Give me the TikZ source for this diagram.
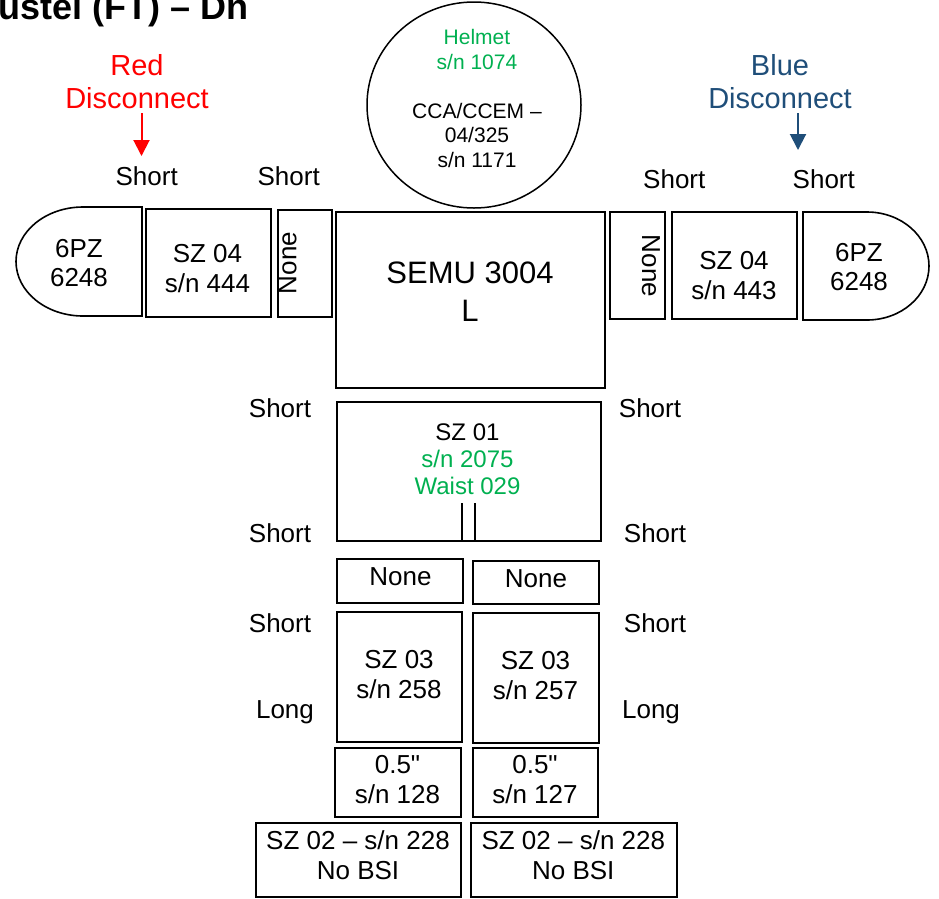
\documentclass[tikz,border=0pt]{standalone}
\usepackage{fontspec}
\setmainfont{Liberation Sans}[Ligatures=TeXOff]
\usetikzlibrary{shapes.geometric,arrows.meta}
\definecolor{grn}{HTML}{00B050}
\definecolor{dblue}{HTML}{1F4E79}
\definecolor{redc}{HTML}{FF0000}
\begin{document}
\begin{tikzpicture}[x=1pt,y=-1pt,
  partbox/.style={draw,line width=1.6pt,inner sep=0pt,outer sep=0pt,rectangle},
  txt/.style={inner sep=0pt,outer sep=0pt,align=center,font=\fontsize{26}{30}\selectfont},
  lbl/.style={inner sep=0pt,outer sep=0pt,anchor=base,font=\fontsize{26}{30}\selectfont},
  disc/.style={line width=2pt,-{Triangle[width=16pt,length=16pt]}}]
\useasboundingbox (0,0) rectangle (939,898);

% title
\node[anchor=base west,inner sep=0pt,font=\fontsize{36}{40}\selectfont\bfseries] (title) at (-2,19) {ustel (FT) – Dn};

% helmet
\node[draw,ellipse,line width=1.5pt,inner sep=0pt,minimum width=214,minimum height=206] (helmet) at (474,105) {};
\node[txt,font=\fontsize{21}{24.5}\selectfont] (helmetT) at (477,98.5) {\textcolor{grn}{Helmet}\\\textcolor{grn}{s/n 1074}\\[24.5pt]CCA/CCEM –\\04/325\\s/n 1171};

% disconnect labels
\node[txt,font=\fontsize{29}{32.5}\selectfont,text=redc] (redT) at (137,81.5) {Red\\Disconnect};
\node[txt,font=\fontsize{29}{32.5}\selectfont,text=dblue] (blueT) at (780,81.5) {Blue\\Disconnect};
\coordinate (redA) at (141.5,113);
\coordinate (redB) at (141.5,156);
\coordinate (blueA) at (798,113);
\coordinate (blueB) at (798,150);
\draw[disc,redc] (redA) -- (redB);
\draw[disc,dblue] (blueA) -- (blueB);

% top Short labels
\node[lbl] (s1) at (146.7,185) {Short};
\node[lbl] (s2) at (288.7,185) {Short};
\node[lbl] (s3) at (674.3,188) {Short};
\node[lbl] (s4) at (823.8,188) {Short};

% left arm
\draw[line width=1.6pt] (142,207) -- (83,207) arc (270:90:67 and 54.5) -- (142,316) -- cycle;
\node[txt,font=\fontsize{26}{29}\selectfont] (pzL) at (79,263.5) {6PZ\\6248};
\node[partbox,minimum width=125,minimum height=108] (szL04) at (208.5,263) {};
\node[txt] (szL04T) at (207.5,269) {SZ 04\\s/n 444};
\node[partbox,minimum width=54,minimum height=107] (noneL) at (305,263.5) {};
\node[txt,rotate=90] (noneLT) at (287.5,263) {None};

% right arm
\node[partbox,minimum width=55,minimum height=107] (noneR) at (637.5,265.5) {};
\node[txt,rotate=-90] (noneRT) at (651,266) {None};
\node[partbox,minimum width=125,minimum height=107] (szR04) at (734.5,265.5) {};
\node[txt] (szR04T) at (734,276) {SZ 04\\s/n 443};
\draw[line width=1.6pt] (803,212) -- (867,212) arc (-90:90:62 and 54) -- (803,320) -- cycle;
\node[txt,font=\fontsize{26}{29}\selectfont] (pzR) at (859,267.5) {6PZ\\6248};

% SEMU
\node[partbox,minimum width=269,minimum height=176] (semu) at (470.5,300) {};
\node[txt,font=\fontsize{31}{38}\selectfont] (semuT) at (470,292) {SEMU 3004\\L};

% SZ 01
\node[partbox,minimum width=264,minimum height=139] (sz01) at (469,471.5) {};
\node[txt,font=\fontsize{24}{27}\selectfont] (sz01T) at (467.5,459) {SZ 01\\\textcolor{grn}{s/n 2075}\\\textcolor{grn}{Waist 029}};
\coordinate (w1a) at (462,503);
\coordinate (w1b) at (462,541);
\coordinate (w2a) at (475,503);
\coordinate (w2b) at (475,541);
\draw[line width=1.6pt] (w1a) -- (w1b) (w2a) -- (w2b);

\node[lbl] (s5) at (280,417) {Short};
\node[lbl] (s6) at (650,417) {Short};
\node[lbl] (s7) at (280,542) {Short};
\node[lbl] (s8) at (655,542) {Short};

% None boxes
\node[partbox,minimum width=126,minimum height=44] (noneBL) at (400,581) {};
\node[lbl] (noneBLT) at (400.5,585) {None};
\node[partbox,minimum width=126,minimum height=43] (noneBR) at (536,582.5) {};
\node[lbl] (noneBRT) at (536,587) {None};

\node[lbl] (s9) at (280,632) {Short};
\node[lbl] (s10) at (655,632) {Short};

% SZ 03
\node[partbox,minimum width=125,minimum height=130] (sz03L) at (399.5,677) {};
\node[txt] (sz03LT) at (399,675) {SZ 03\\s/n 258};
\node[partbox,minimum width=126,minimum height=130] (sz03R) at (536,678) {};
\node[txt] (sz03RT) at (535.5,675.5) {SZ 03\\s/n 257};
\node[lbl] (l1) at (285,718) {Long};
\node[lbl] (l2) at (651,718) {Long};

% 0.5 inch
\node[partbox,minimum width=126,minimum height=69] (halfL) at (398,782.5) {};
\node[txt] (halfLT) at (397.5,780) {0.5"\\s/n 128};
\node[partbox,minimum width=125,minimum height=69] (halfR) at (535.5,782.5) {};
\node[txt] (halfRT) at (535,780) {0.5"\\s/n 127};

% SZ 02
\node[partbox,minimum width=205,minimum height=74] (sz02L) at (358.5,860) {};
\node[txt] (sz02LT) at (358,855) {SZ 02 – s/n 228\\No BSI};
\node[partbox,minimum width=206,minimum height=74] (sz02R) at (574,860) {};
\node[txt] (sz02RT) at (573.3,855) {SZ 02 – s/n 228\\No BSI};
\end{tikzpicture}
\end{document}
